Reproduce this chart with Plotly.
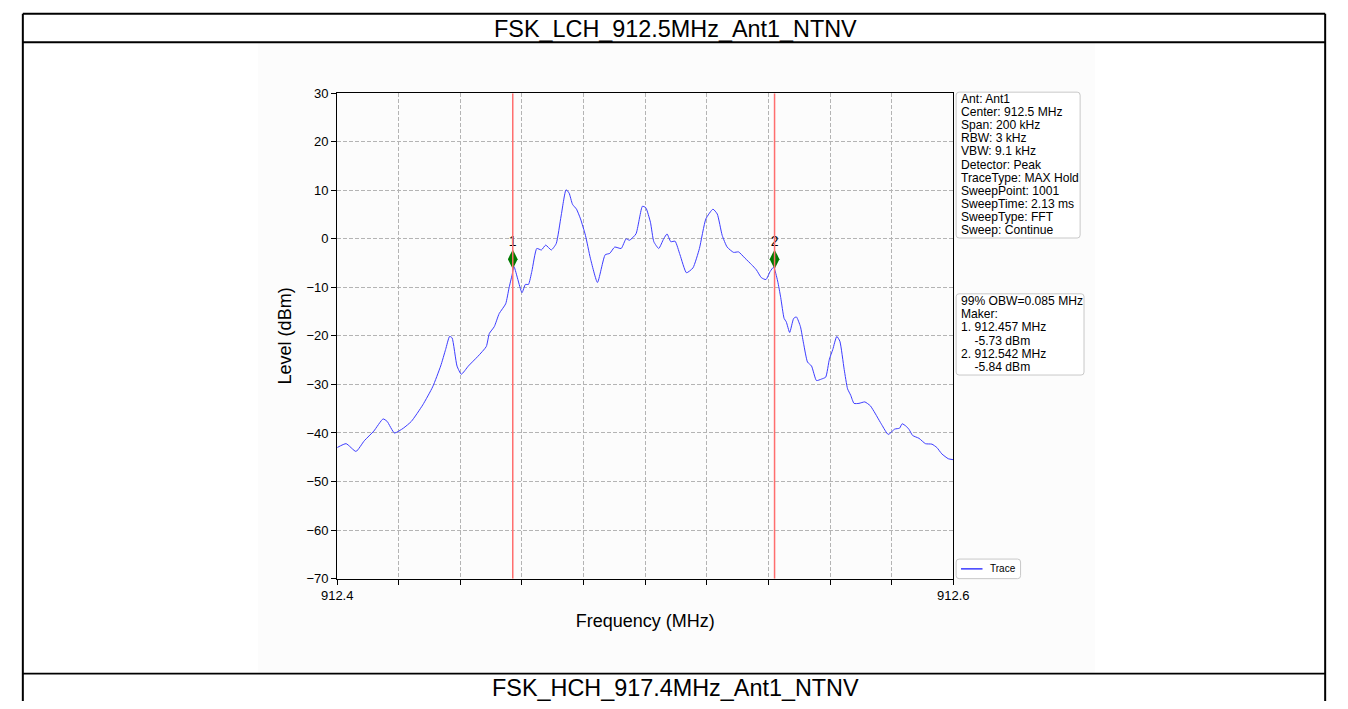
import plotly.graph_objects as go

# ---- data ----
freq_mhz = [912.4000, 912.4029, 912.4061, 912.4088, 912.4119, 912.4149, 912.4162, 912.4186,
            912.4215, 912.4241, 912.4278, 912.4310, 912.4336, 912.4352, 912.4365, 912.4373,
            912.4389, 912.4403, 912.4426, 912.4457, 912.4484, 912.4494, 912.4510, 912.4526,
            912.4547, 912.4558, 912.4568, 912.4574, 912.4600, 912.4611, 912.4621, 912.4632,
            912.4648, 912.4663, 912.4677, 912.4695, 912.4711, 912.4727, 912.4743, 912.4753,
            912.4764, 912.4777, 912.4790, 912.4806, 912.4822, 912.4845, 912.4870, 912.4885,
            912.4901, 912.4922, 912.4938, 912.4949, 912.4970, 912.4991, 912.5002, 912.5017,
            912.5028, 912.5044, 912.5060, 912.5071, 912.5083, 912.5097, 912.5113, 912.5134,
            912.5155, 912.5176, 912.5197, 912.5220, 912.5234, 912.5250, 912.5266, 912.5287,
            912.5303, 912.5324, 912.5345, 912.5361, 912.5377, 912.5392, 912.5406, 912.5417,
            912.5430, 912.5440, 912.5451, 912.5458, 912.5469, 912.5482, 912.5491, 912.5504,
            912.5514, 912.5527, 912.5540, 912.5556, 912.5572, 912.5586, 912.5598, 912.5609,
            912.5622, 912.5632, 912.5646, 912.5657, 912.5667, 912.5678, 912.5694, 912.5713,
            912.5731, 912.5746, 912.5768, 912.5789, 912.5810, 912.5826, 912.5834, 912.5847,
            912.5857, 912.5868, 912.5889, 912.5910, 912.5931, 912.5947, 912.5963, 912.5984,
            912.6000]
level_dbm = [-43.0, -42.2, -43.8, -41.6, -39.6, -37.1, -37.6, -40.0,
             -39.0, -37.6, -34.2, -30.5, -26.2, -22.8, -20.1, -20.4,
             -26.2, -27.9, -26.2, -24.2, -22.2, -19.5, -18.1, -15.4,
             -13.4, -10.1, -7.4, -5.73, -11.1, -9.4, -9.4, -6.7,
             -2.0, -2.3, -1.3, -2.3, -1.0, 4.7, 10.1, 9.4,
             7.1, 6.1, 4.1, 0.7, -4.0, -9.0, -3.3, -3.0,
             -1.7, -2.0, 0.0, -0.3, 1.0, 6.7, 6.4, 3.4,
             -0.6, -2.0, 0.0, 1.0, -0.6, -0.5, -3.3, -7.0,
             -6.0, -2.0, 4.1, 6.1, 5.1, 0.7, -1.7, -2.8,
             -2.7, -4.0, -5.3, -6.4, -8.0, -8.4, -6.7, -5.84,
             -8.7, -12.1, -16.4, -17.1, -19.3, -16.4, -16.1, -18.1,
             -21.5, -25.4, -26.2, -29.2, -28.9, -28.5, -24.8, -22.8,
             -20.1, -21.1, -26.9, -30.9, -32.2, -33.9, -33.9, -33.6,
             -34.4, -35.9, -38.3, -40.3, -39.2, -39.0, -38.1, -38.6,
             -39.3, -40.5, -41.1, -42.2, -42.3, -43.0, -44.3, -45.3,
             -45.5]

marker_names = ["1", "2"]
marker_freq = [912.457, 912.542]
marker_level = [-5.73, -5.84]
marker_symbol_level = [-4.2, -4.2]

y_ticks = [30, 20, 10, 0, -10, -20, -30, -40, -50, -60, -70]
x_ticks = [912.40, 912.42, 912.44, 912.46, 912.48, 912.50, 912.52, 912.54, 912.56, 912.58, 912.60]
x_tick_text = ["912.4", "", "", "", "", "", "", "", "", "", "912.6"]

info_lines = ["Ant: Ant1", "Center: 912.5 MHz", "Span: 200 kHz", "RBW: 3 kHz", "VBW: 9.1 kHz",
              "Detector: Peak", "TraceType: MAX Hold", "SweepPoint: 1001", "SweepTime: 2.13 ms",
              "SweepType: FFT", "Sweep: Continue"]
obw_text = "99% OBW=0.085 MHz"
maker_title = "Maker:"
trace_name = "Trace"
title_top = "FSK_LCH_912.5MHz_Ant1_NTNV"
title_bottom = "FSK_HCH_917.4MHz_Ant1_NTNV"

W, H = 1348, 709
FONT = "Liberation Sans, Arial, sans-serif"
TRACE_COLOR = "#3c3cff"
BOX_COLOR = "#c8c8c8"


def px(x):
    return x / W


def py(y):
    return 1 - y / H


def rounded_box(x0, y0, x1, y1, r=3):
    p = (f"M {px(x0 + r)},{py(y0)} L {px(x1 - r)},{py(y0)} "
         f"Q {px(x1)},{py(y0)} {px(x1)},{py(y0 + r)} L {px(x1)},{py(y1 - r)} "
         f"Q {px(x1)},{py(y1)} {px(x1 - r)},{py(y1)} L {px(x0 + r)},{py(y1)} "
         f"Q {px(x0)},{py(y1)} {px(x0)},{py(y1 - r)} L {px(x0)},{py(y0 + r)} "
         f"Q {px(x0)},{py(y0)} {px(x0 + r)},{py(y0)} Z")
    return dict(type="path", xref="paper", yref="paper", path=p,
                fillcolor="white", line=dict(color=BOX_COLOR, width=1), layer="above")


fig = go.Figure()

fig.add_trace(go.Scatter(x=freq_mhz, y=level_dbm, mode="lines", name=trace_name,
                         line=dict(color=TRACE_COLOR, width=1, shape="spline", smoothing=0.5),
                         showlegend=False))

for f in marker_freq:
    fig.add_shape(type="line", xref="x", yref="y", x0=f, x1=f, y0=-70, y1=30,
                  line=dict(color="#ff6e6e", width=1.5), layer="above")

fig.add_trace(go.Scatter(x=marker_freq, y=marker_symbol_level, mode="markers+text",
                         text=marker_names, textposition="top center",
                         textfont=dict(family=FONT, size=14, color="black"),
                         marker=dict(symbol="diamond-tall", color="#007a00", size=14),
                         showlegend=False, hoverinfo="skip"))

fig.update_xaxes(domain=[px(329), px(960)], range=[912.4, 912.6], tickvals=x_ticks,
                 ticktext=x_tick_text, ticks="outside", ticklen=5, tickcolor="black",
                 showline=True, linecolor="black", linewidth=1.2, mirror=True,
                 showgrid=True, gridcolor="#b4b4b4", griddash="4px,2px", gridwidth=0.8,
                 zeroline=False, tickfont=dict(family=FONT, size=13, color="black"),
                 title=dict(text="Frequency (MHz)", font=dict(family=FONT, size=18, color="black"),
                            standoff=12))
fig.update_yaxes(domain=[py(584), py(88)], range=[-70, 30], tickvals=y_ticks,
                 ticks="outside", ticklen=5, tickcolor="black",
                 showline=True, linecolor="black", linewidth=1.2, mirror=True,
                 showgrid=True, gridcolor="#b4b4b4", griddash="4px,2px", gridwidth=0.8,
                 zeroline=False, tickfont=dict(family=FONT, size=13, color="black"),
                 title=dict(text="Level (dBm)", font=dict(family=FONT, size=18, color="black"),
                            standoff=10))

shapes = [
    dict(type="rect", xref="paper", yref="paper", x0=px(248), x1=px(1105), y0=py(680), y1=py(37),
         fillcolor="#fcfcfc", line=dict(width=0), layer="below"),
    dict(type="line", xref="paper", yref="paper", x0=px(7), x1=px(1341), y0=py(7), y1=py(7),
         line=dict(color="black", width=2)),
    dict(type="line", xref="paper", yref="paper", x0=px(7), x1=px(1341), y0=py(36), y1=py(36),
         line=dict(color="black", width=1.8)),
    dict(type="line", xref="paper", yref="paper", x0=px(7), x1=px(1341), y0=py(681), y1=py(681),
         line=dict(color="black", width=1.8)),
    dict(type="line", xref="paper", yref="paper", x0=px(7), x1=px(7), y0=py(7), y1=py(709),
         line=dict(color="black", width=2)),
    dict(type="line", xref="paper", yref="paper", x0=px(1341), x1=px(1341), y0=py(7), y1=py(709),
         line=dict(color="black", width=2)),
    rounded_box(963, 87, 1090, 236),
    rounded_box(963, 293, 1094, 376),
    rounded_box(963, 564, 1029, 584),
    dict(type="line", xref="paper", yref="paper", x0=px(968), x1=px(990), y0=py(574), y1=py(574),
         line=dict(color=TRACE_COLOR, width=1.5), layer="above"),
]
for s in shapes:
    fig.add_shape(**s)

annotations = [
    dict(text=title_top, x=px(676), y=py(22), xanchor="center", yanchor="middle",
         font=dict(family=FONT, size=23.4, color="black")),
    dict(text=title_bottom, x=px(676), y=py(696), xanchor="center", yanchor="middle",
         font=dict(family=FONT, size=23.4, color="black")),
    dict(text=trace_name, x=px(996), y=py(574), xanchor="left", yanchor="middle",
         font=dict(family=FONT, size=10, color="black")),
]
for i, line in enumerate(info_lines):
    annotations.append(dict(text=line, x=px(966), y=py(94 + i * 13.4), xanchor="left",
                            yanchor="middle", font=dict(family=FONT, size=12.1, color="black")))

box2_lines = [obw_text, maker_title]
for n, f, l in zip(marker_names, marker_freq, marker_level):
    box2_lines.append(f"{n}. {f:.3f} MHz")
    box2_lines.append(f"&nbsp;&nbsp;&nbsp;&nbsp;{l:.2f} dBm")
for i, line in enumerate(box2_lines):
    annotations.append(dict(text=line, x=px(966), y=py(300 + i * 13.6), xanchor="left",
                            yanchor="middle", font=dict(family=FONT, size=12.1, color="black")))

for a in annotations:
    fig.add_annotation(xref="paper", yref="paper", showarrow=False, **a)

fig.update_layout(
    width=W, height=H, margin=dict(l=0, r=0, t=0, b=0),
    paper_bgcolor="white", plot_bgcolor="white",
    showlegend=False,
)

fig.write_html("out.html", config={"displayModeBar": False},
               post_script="document.body.style.margin='0';document.body.style.overflow='hidden';")
